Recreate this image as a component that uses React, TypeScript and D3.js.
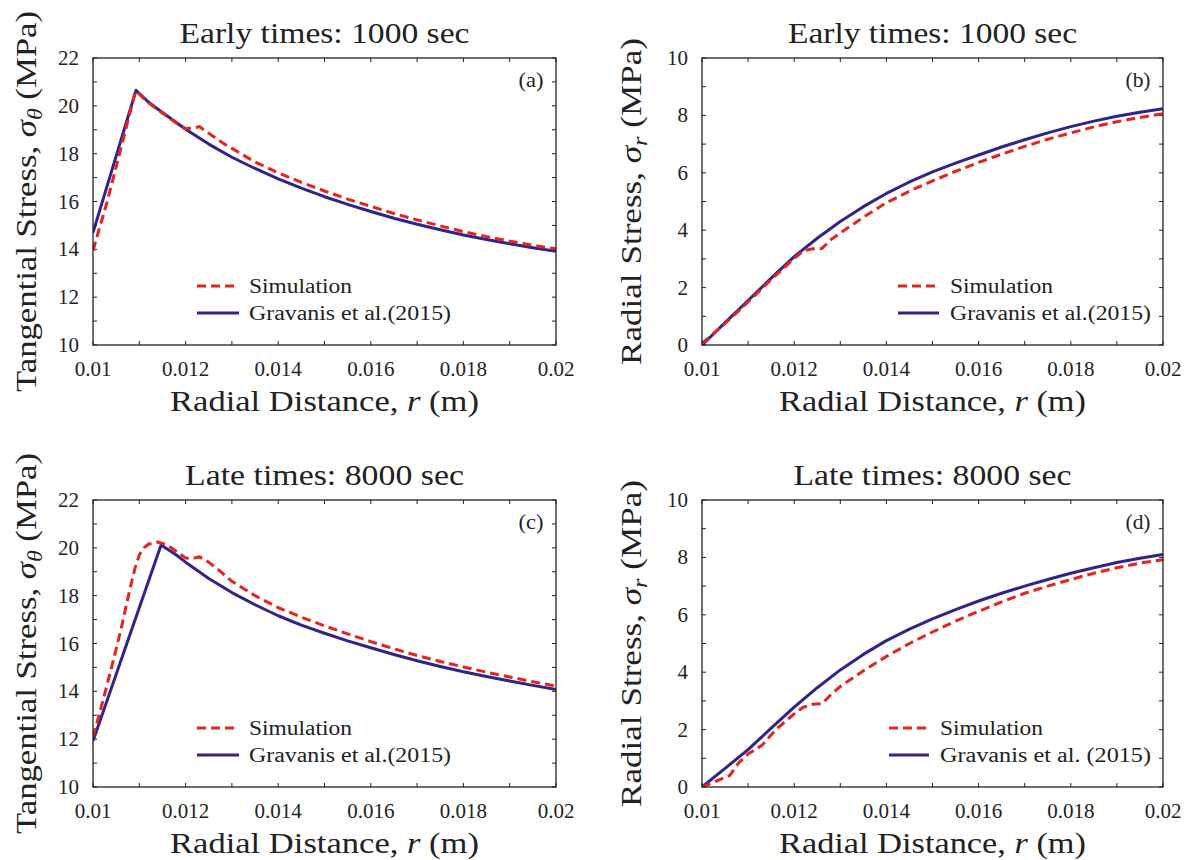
import React from "react";
import * as d3 from "d3";

// ---------- tick labels ----------
const xTickValues = [0.01, 0.012, 0.014, 0.016, 0.018, 0.02];
const xTickLabels = ["0.01", "0.012", "0.014", "0.016", "0.018", "0.02"];
const tangTickValues = [10, 12, 14, 16, 18, 20, 22];
const radTickValues = [0, 2, 4, 6, 8, 10];

// ---------- panel (a): tangential stress, 1000 s ----------
const rGravA = [0.01, 0.01093, 0.0112, 0.0115, 0.0118, 0.012, 0.0125, 0.013, 0.0135, 0.014, 0.0145, 0.015, 0.0155, 0.016, 0.0165, 0.017, 0.0175, 0.018, 0.0185, 0.019, 0.0195, 0.02];
const vGravA = [14.7, 20.65, 20.15, 19.72, 19.3, 19.02, 18.4, 17.85, 17.38, 16.95, 16.56, 16.2, 15.88, 15.58, 15.3, 15.05, 14.82, 14.6, 14.41, 14.23, 14.07, 13.92];
const rSimA = [0.01, 0.0103, 0.0106, 0.0109, 0.01093, 0.0112, 0.0115, 0.0118, 0.012, 0.01215, 0.0123, 0.0125, 0.0128, 0.013, 0.0135, 0.014, 0.0145, 0.015, 0.0155, 0.016, 0.0165, 0.017, 0.0175, 0.018, 0.0185, 0.019, 0.0195, 0.02];
const vSimA = [13.95, 15.95, 18.2, 20.5, 20.62, 20.12, 19.7, 19.28, 19.05, 19.06, 19.13, 18.85, 18.45, 18.22, 17.65, 17.2, 16.8, 16.44, 16.1, 15.8, 15.5, 15.23, 14.98, 14.74, 14.53, 14.34, 14.17, 14.02];

// ---------- panel (b): radial stress, 1000 s ----------
const rGravB = [0.01, 0.0105, 0.011, 0.0115, 0.012, 0.0125, 0.013, 0.0135, 0.014, 0.0145, 0.015, 0.0155, 0.016, 0.0165, 0.017, 0.0175, 0.018, 0.0185, 0.019, 0.0195, 0.02];
const vGravB = [0, 0.78, 1.55, 2.33, 3.08, 3.72, 4.3, 4.82, 5.28, 5.68, 6.03, 6.34, 6.62, 6.9, 7.15, 7.39, 7.61, 7.8, 7.97, 8.11, 8.23];
const rSimB = [0.01, 0.0105, 0.011, 0.0115, 0.012, 0.0122, 0.0124, 0.0126, 0.0128, 0.013, 0.0135, 0.014, 0.0145, 0.015, 0.0155, 0.016, 0.0165, 0.017, 0.0175, 0.018, 0.0185, 0.019, 0.0195, 0.02];
const vSimB = [0.05, 0.75, 1.5, 2.28, 3.02, 3.28, 3.35, 3.36, 3.68, 3.9, 4.45, 4.96, 5.36, 5.72, 6.05, 6.36, 6.65, 6.92, 7.17, 7.39, 7.6, 7.78, 7.93, 8.06];

// ---------- panel (c): tangential stress, 8000 s ----------
const rGravC = [0.01, 0.01147, 0.0118, 0.012, 0.0125, 0.013, 0.0135, 0.014, 0.0145, 0.015, 0.0155, 0.016, 0.0165, 0.017, 0.0175, 0.018, 0.0185, 0.019, 0.0195, 0.02];
const vGravC = [11.92, 20.12, 19.7, 19.4, 18.72, 18.13, 17.62, 17.16, 16.77, 16.43, 16.11, 15.82, 15.54, 15.28, 15.04, 14.82, 14.62, 14.43, 14.25, 14.08];
const rSimC = [0.01, 0.0102, 0.0104, 0.0106, 0.0108, 0.0109, 0.011, 0.0111, 0.0112, 0.0114, 0.0116, 0.0118, 0.012, 0.0121, 0.0123, 0.0125, 0.0127, 0.013, 0.0135, 0.014, 0.0145, 0.015, 0.0155, 0.016, 0.0165, 0.017, 0.0175, 0.018, 0.0185, 0.019, 0.0195, 0.02];
const vSimC = [12.1, 13.5, 15.0, 16.55, 18.3, 19.1, 19.7, 20.0, 20.15, 20.24, 20.12, 19.85, 19.58, 19.54, 19.62, 19.4, 19.1, 18.6, 18.0, 17.5, 17.1, 16.74, 16.4, 16.08, 15.78, 15.5, 15.25, 15.02, 14.8, 14.6, 14.4, 14.22];

// ---------- panel (d): radial stress, 8000 s ----------
const rGravD = [0.01, 0.0105, 0.011, 0.0115, 0.012, 0.0125, 0.013, 0.0135, 0.014, 0.0145, 0.015, 0.0155, 0.016, 0.0165, 0.017, 0.0175, 0.018, 0.0185, 0.019, 0.0195, 0.02];
const vGravD = [0, 0.65, 1.3, 2.05, 2.78, 3.46, 4.08, 4.62, 5.1, 5.5, 5.86, 6.18, 6.48, 6.75, 7.0, 7.23, 7.45, 7.64, 7.82, 7.97, 8.1];
const rSimD = [0.01, 0.0103, 0.0106, 0.0108, 0.011, 0.0113, 0.0116, 0.012, 0.0122, 0.0124, 0.0126, 0.0128, 0.013, 0.0135, 0.014, 0.0145, 0.015, 0.0155, 0.016, 0.0165, 0.017, 0.0175, 0.018, 0.0185, 0.019, 0.0195, 0.02];
const vSimD = [0, 0.2, 0.4, 0.85, 1.15, 1.45, 2.0, 2.55, 2.78, 2.88, 2.9, 3.22, 3.5, 4.05, 4.55, 5.0, 5.4, 5.78, 6.12, 6.45, 6.75, 7.0, 7.23, 7.45, 7.64, 7.8, 7.92];

const FONT = "'Liberation Serif', 'Times New Roman', serif";
const BLUE = "#30238c";
const RED = "#e8221c";
const INK = "#222";

type PanelDef = {
  x0: number; x1: number; y0: number; y1: number;
  yDomain: [number, number]; yTicks: number[];
  title: string; titleLen: number;
  yTitleMain: string; yTitleSub: string; yTitleLen: number; yTitleX: number;
  letter: string;
  leg: { lx0: number; lx1: number; tx: number; simLen: number; gravLen: number; gravText: string };
  rG: number[]; vG: number[]; rS: number[]; vS: number[];
};

const TOP1 = 58, BOT1 = 345, TOP2 = 500, BOT2 = 787;
const L1 = 93, R1 = 556, L2 = 702, R2 = 1163;

const panels: PanelDef[] = [
  {
    x0: L1, x1: R1, y0: TOP1, y1: BOT1, yDomain: [10, 22], yTicks: tangTickValues,
    title: "Early times: 1000 sec", titleLen: 290,
    yTitleMain: "Tangential Stress, ", yTitleSub: "θ", yTitleLen: 381, yTitleX: 36, letter: "(a)",
    leg: { lx0: L1 + 104, lx1: L1 + 146, tx: L1 + 156, simLen: 103, gravLen: 202, gravText: "Gravanis et al.(2015)" },
    rG: rGravA, vG: vGravA, rS: rSimA, vS: vSimA,
  },
  {
    x0: L2, x1: R2, y0: TOP1, y1: BOT1, yDomain: [0, 10], yTicks: radTickValues,
    title: "Early times: 1000 sec", titleLen: 289,
    yTitleMain: "Radial Stress, ", yTitleSub: "r", yTitleLen: 327, yTitleX: 641, letter: "(b)",
    leg: { lx0: L2 + 196, lx1: L2 + 237, tx: L2 + 248, simLen: 103, gravLen: 201, gravText: "Gravanis et al.(2015)" },
    rG: rGravB, vG: vGravB, rS: rSimB, vS: vSimB,
  },
  {
    x0: L1, x1: R1, y0: TOP2, y1: BOT2, yDomain: [10, 22], yTicks: tangTickValues,
    title: "Late times: 8000 sec", titleLen: 279,
    yTitleMain: "Tangential Stress, ", yTitleSub: "θ", yTitleLen: 381, yTitleX: 36, letter: "(c)",
    leg: { lx0: L1 + 104, lx1: L1 + 146, tx: L1 + 156, simLen: 103, gravLen: 202, gravText: "Gravanis et al.(2015)" },
    rG: rGravC, vG: vGravC, rS: rSimC, vS: vSimC,
  },
  {
    x0: L2, x1: R2, y0: TOP2, y1: BOT2, yDomain: [0, 10], yTicks: radTickValues,
    title: "Late times: 8000 sec", titleLen: 278,
    yTitleMain: "Radial Stress, ", yTitleSub: "r", yTitleLen: 327, yTitleX: 641, letter: "(d)",
    leg: { lx0: L2 + 187, lx1: L2 + 227, tx: L2 + 238, simLen: 103, gravLen: 211, gravText: "Gravanis et al. (2015)" },
    rG: rGravD, vG: vGravD, rS: rSimD, vS: vSimD,
  },
];

function Panel({ p }: { p: PanelDef }) {
  const x = d3.scaleLinear().domain([0.01, 0.02]).range([p.x0, p.x1]);
  const y = d3.scaleLinear().domain(p.yDomain).range([p.y1, p.y0]);
  const line = d3.line<[number, number]>().x((d) => x(d[0])).y((d) => y(d[1])).curve(d3.curveLinear);
  const grav = line(p.rG.map((r, i) => [r, p.vG[i]] as [number, number])) || "";
  const sim = line(p.rS.map((r, i) => [r, p.vS[i]] as [number, number])) || "";
  const xMinor = d3.range(0, 11).map((i) => 0.01 + i * 0.001);
  const yMinor = d3.range(p.yDomain[0], p.yDomain[1] + 0.5, 1);
  const tl = 4;
  const cx = (p.x0 + p.x1) / 2;
  const cy = (p.y0 + p.y1) / 2;
  const legY1 = p.y0 + 228;
  const legY2 = p.y0 + 255;
  return (
    <g>
      <defs>
        <clipPath id={"clip" + p.letter.replace(/[()]/g, "")}>
          <rect x={p.x0} y={p.y0} width={p.x1 - p.x0} height={p.y1 - p.y0} />
        </clipPath>
      </defs>
      {/* ticks */}
      {xMinor.map((t, i) => (
        <g key={"xt" + i} stroke={INK} strokeWidth={1}>
          <line x1={x(t)} x2={x(t)} y1={p.y1} y2={p.y1 - tl} />
          <line x1={x(t)} x2={x(t)} y1={p.y0} y2={p.y0 + tl} />
        </g>
      ))}
      {yMinor.map((t, i) => (
        <g key={"yt" + i} stroke={INK} strokeWidth={1}>
          <line x1={p.x0} x2={p.x0 + tl} y1={y(t)} y2={y(t)} />
          <line x1={p.x1} x2={p.x1 - tl} y1={y(t)} y2={y(t)} />
        </g>
      ))}
      {/* curves */}
      <g clipPath={"url(#clip" + p.letter.replace(/[()]/g, "") + ")"}>
        <path d={grav} fill="none" stroke={BLUE} strokeWidth={3} strokeLinejoin="round" />
        <path d={sim} fill="none" stroke={RED} strokeWidth={3} strokeDasharray="9,5" />
      </g>
      {/* frame */}
      <rect x={p.x0} y={p.y0} width={p.x1 - p.x0} height={p.y1 - p.y0} fill="none" stroke={INK} strokeWidth={1.3} />
      {/* tick labels */}
      {xTickValues.map((t, i) => (
        <text key={"xl" + i} x={x(t)} y={p.y1 + 31} textAnchor="middle" fontSize={21} fill={INK} fontFamily={FONT}>
          {xTickLabels[i]}
        </text>
      ))}
      {p.yTicks.map((t, i) => (
        <text key={"yl" + i} x={p.x0 - 14} y={y(t) + 7} textAnchor="end" fontSize={21} fill={INK} fontFamily={FONT}>
          {String(t)}
        </text>
      ))}
      {/* title */}
      <text x={cx} y={p.y0 - 15} textAnchor="middle" fontSize={29} fill={INK} fontFamily={FONT} textLength={p.titleLen} lengthAdjust="spacingAndGlyphs">
        {p.title}
      </text>
      {/* x title */}
      <text x={cx} y={p.y1 + 66} textAnchor="middle" fontSize={29} fill={INK} fontFamily={FONT} textLength={p.x0 === L1 ? 309 : 307} lengthAdjust="spacingAndGlyphs">
        Radial Distance, <tspan fontStyle="italic">r</tspan> (m)
      </text>
      {/* y title */}
      <text transform={`translate(${p.yTitleX},${cy}) rotate(-90)`} textAnchor="middle" fontSize={29} fill={INK} fontFamily={FONT} textLength={p.yTitleLen} lengthAdjust="spacingAndGlyphs">
        {p.yTitleMain}
        <tspan fontStyle="italic">σ</tspan>
        <tspan fontStyle="italic" fontSize={20} dy={6}>{p.yTitleSub}</tspan>
        <tspan dy={-6}> (MPa)</tspan>
      </text>
      {/* panel letter */}
      <text x={p.x1 - 25} y={p.y0 + 29} textAnchor="middle" fontSize={21} fill={INK} fontFamily={FONT} textLength={25} lengthAdjust="spacingAndGlyphs">
        {p.letter}
      </text>
      {/* legend */}
      <line x1={p.leg.lx0} x2={p.leg.lx1} y1={legY1} y2={legY1} stroke={RED} strokeWidth={3} strokeDasharray="9,5" />
      <line x1={p.leg.lx0} x2={p.leg.lx1} y1={legY2} y2={legY2} stroke={BLUE} strokeWidth={3} />
      <text x={p.leg.tx} y={legY1 + 7} fontSize={20} fill={INK} fontFamily={FONT} textLength={p.leg.simLen} lengthAdjust="spacingAndGlyphs">
        Simulation
      </text>
      <text x={p.leg.tx} y={legY2 + 7} fontSize={20} fill={INK} fontFamily={FONT} textLength={p.leg.gravLen} lengthAdjust="spacingAndGlyphs">
        {p.leg.gravText}
      </text>
    </g>
  );
}

export default function App() {
  return (
    <svg width={1184} height={860} viewBox="0 0 1184 860" style={{ position: "absolute", left: 0, top: 0, background: "#fff" }}>
      <rect x={0} y={0} width={1184} height={860} fill="#fff" />
      {panels.map((p, i) => (
        <Panel key={i} p={p} />
      ))}
    </svg>
  );
}
